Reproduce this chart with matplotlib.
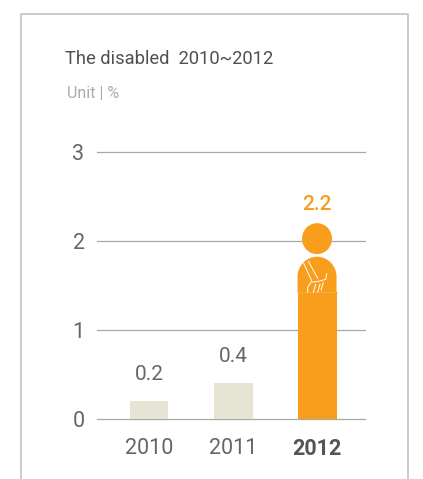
import matplotlib
matplotlib.use("Agg")
import matplotlib.pyplot as plt
from matplotlib.lines import Line2D
from matplotlib.patches import Ellipse, PathPatch
from matplotlib.path import Path
from matplotlib.transforms import Affine2D

years = ["2010", "2011", "2012"]
values = [0.2, 0.4, 2.2]
y_ticks = [0, 1, 2, 3]

W, H = 423, 479
ORANGE = "#f99d1c"
PALE = "#e6e5d5"
TEXT = "#666666"

plt.rcParams["font.family"] = ["Roboto", "DejaVu Sans"]


def px_rect(left, top, right, bottom):
    return [left / W, 1 - bottom / H, (right - left) / W, (bottom - top) / H]


fig = plt.figure(figsize=(W / 100, H / 100), dpi=100, facecolor="white")
ax = fig.add_axes(px_rect(97, 152, 365, 419))
ax.set_xlim(-0.619, 2.571)
ax.set_ylim(0, 3)
ax.patch.set_visible(False)
for s in ax.spines.values():
    s.set_visible(False)

for t in y_ticks:
    ax.axhline(t, color="#a8a8a8", lw=0.9, zorder=1, clip_on=False)

# person pictogram: shapes are in px above the baseline, full height 190,
# so the top of the head lands on the 2012 value
hi = len(values) - 1
person = Affine2D().scale(1 / 84, values[hi] / 190).translate(hi, 0) + ax.transData
torso_top = 123

bar_heights = list(values)
bar_heights[hi] = values[hi] * torso_top / 190
colors = [PALE, PALE, ORANGE]
ax.bar(range(len(years)), bar_heights, width=0.464, color=colors, zorder=2)
ax.plot([hi - 0.232, hi + 0.232], [bar_heights[hi]] * 2, color="#fbb04d", lw=0.6, zorder=4)

ax.add_patch(Ellipse((0, 175), 30, 30, facecolor=ORANGE, edgecolor="none", transform=person, zorder=3))

# shoulders
k = 10.7
verts = [(-19.5, 122), (-19.5, 138), (-19.5, 138 + k), (-k, 157.5), (0, 157.5), (k, 157.5), (19.5, 138 + k),
         (19.5, 138), (19.5, 122), (-19.5, 122)]
codes = [Path.MOVETO, Path.LINETO, Path.CURVE4, Path.CURVE4, Path.CURVE4, Path.CURVE4, Path.CURVE4,
         Path.CURVE4, Path.LINETO, Path.CLOSEPOLY]
ax.add_patch(PathPatch(Path(verts, codes), facecolor=ORANGE, edgecolor="none", transform=person, zorder=3))

# sling straps and the arm cast
white_lines = [
    [(-13.3, 151), (-5.3, 134)],
    [(-8.7, 153), (0.7, 136.5)],
    [(9.7, 141), (8.7, 135.5), (1.3, 133.5), (-6, 132.8), (-9.3, 128), (-9.3, 123)],
    [(-3.7, 123), (-1.3, 131)],
    [(0.7, 123), (3, 131)],
    [(4, 125), (6.3, 132.5)],
]
for pts in white_lines:
    xs, ys = zip(*pts)
    ax.plot(xs, ys, color="white", lw=0.7, solid_capstyle="round", transform=person, zorder=5)

for i, v in enumerate(values[:hi]):
    ax.text(i, v + 0.19, f"{v}", ha="center", va="bottom", fontsize=15, color=TEXT, zorder=6)
ax.text(hi, 2.3, f"{values[hi]}", ha="center", va="bottom", fontsize=15, color=ORANGE, fontweight="medium", zorder=6)

ax.set_yticks(y_ticks)
ax.set_yticklabels([str(t) for t in y_ticks])
ax.set_xticks(range(len(years)))
ax.set_xticklabels(years)
ax.tick_params(axis="both", length=0, labelsize=15.5, labelcolor=TEXT)
ax.tick_params(axis="y", pad=9)
ax.tick_params(axis="x", pad=14)
last = ax.get_xticklabels()[hi]
last.set_fontweight("bold")
last.set_color("#555555")

# card outline, open at the bottom
frame = [(20.5, 479), (20.5, 13.5), (408, 13.5), (408, 479)]
fig.add_artist(Line2D([p[0] / W for p in frame], [1 - p[1] / H for p in frame],
                      color="#c4c4c4", lw=1.2, transform=fig.transFigure))

fig.text(65 / W, 1 - 59 / H, "The disabled  2010~2012", fontsize=13.2, color="#505050", va="center", ha="left")
fig.text(67 / W, 1 - 93 / H, "Unit | %", fontsize=11.5, color="#ababab", va="center", ha="left")

fig.savefig("out.png", dpi=100, facecolor="white")
